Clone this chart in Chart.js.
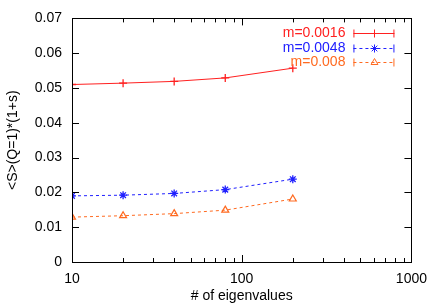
<!DOCTYPE html>
<html>
<head>
<meta charset="utf-8">
<script src="https://cdn.jsdelivr.net/npm/chart.js@4/dist/chart.umd.min.js"></script>
<style>
  html, body { margin: 0; padding: 0; background: #fff; }
  canvas { display: block; }
</style>
</head>
<body>
<canvas id="chart" width="436" height="305"></canvas>
<script>
// data
const eigenCounts = [10, 20, 40, 80, 200];
const seriesLabels = ['m=0.0016', 'm=0.0048', 'm=0.008'];
const valuesM0016 = [0.0510, 0.0514, 0.0519, 0.0529, 0.0557];
const valuesM0048 = [0.0190, 0.0192, 0.0197, 0.0208, 0.0238];
const valuesM008 = [0.0129, 0.0133, 0.0139, 0.0149, 0.0181];
const xTickLabels = [10, 100, 1000];
const yTickValues = [0, 0.01, 0.02, 0.03, 0.04, 0.05, 0.06, 0.07];

const colors = ['#ff2020', '#2020ff', '#ff6a20'];
const font = "'Liberation Sans', Arial, sans-serif";
const fontSize = 14;

function toPoints(vals) {
    return eigenCounts.map((x, i) => ({ x: x, y: vals[i] }));
}

// gnuplot style box with inward ticks on all four sides
const frameTicks = {
    id: 'frameTicks',
    afterDraw(chart) {
        const ctx = chart.ctx;
        const a = chart.chartArea;
        const xs = chart.scales.x;
        const ys = chart.scales.y;
        ctx.save();
        ctx.strokeStyle = '#000';
        ctx.lineWidth = 1;
        ctx.strokeRect(Math.round(a.left) + 0.5, Math.round(a.top) + 0.5,
            Math.round(a.right - a.left), Math.round(a.bottom - a.top));
        ctx.beginPath();
        yTickValues.forEach(function(v) {
            const y = Math.round(ys.getPixelForValue(v)) + 0.5;
            ctx.moveTo(a.left, y); ctx.lineTo(a.left + 7, y);
            ctx.moveTo(a.right, y); ctx.lineTo(a.right - 7, y);
        });
        for (let dec = 10; dec <= 1000; dec *= 10) {
            for (let k = 1; k <= 9; k++) {
                const v = dec * k;
                if (v > 1000) break;
                const x = Math.round(xs.getPixelForValue(v)) + 0.5;
                const len = k === 1 ? 7 : 4;
                ctx.moveTo(x, a.bottom); ctx.lineTo(x, a.bottom - len);
                ctx.moveTo(x, a.top); ctx.lineTo(x, a.top + len);
            }
        }
        ctx.stroke();
        ctx.restore();
    }
};

// legend with error-bar style samples, top right inside the box
const errLegend = {
    id: 'errLegend',
    afterDraw(chart) {
        const ctx = chart.ctx;
        const a = chart.chartArea;
        ctx.save();
        ctx.font = fontSize + 'px ' + font;
        ctx.textAlign = 'right';
        ctx.textBaseline = 'middle';
        chart.data.datasets.forEach(function(ds, i) {
            const y = Math.round(a.top + 15 + i * 14.3) + 0.5;
            const x0 = a.right - 58, x1 = a.right - 17;
            ctx.fillStyle = ds.borderColor;
            ctx.fillText(ds.label, a.right - 66, y);
            ctx.strokeStyle = ds.borderColor;
            ctx.lineWidth = 1;
            ctx.setLineDash(ds.borderDash || []);
            ctx.beginPath();
            ctx.moveTo(x0, y); ctx.lineTo(x1, y);
            ctx.stroke();
            ctx.setLineDash([]);
            ctx.beginPath();
            ctx.moveTo(x0 + 0.5, y - 4); ctx.lineTo(x0 + 0.5, y + 4);
            ctx.moveTo(x1 - 0.5, y - 4); ctx.lineTo(x1 - 0.5, y + 4);
            ctx.stroke();
            ctx.fillStyle = ds.backgroundColor;
            Chart.helpers.drawPoint(ctx, {
                pointStyle: ds.pointStyle, radius: ds.pointRadius, rotation: 0,
                borderWidth: 1
            }, Math.round((x0 + x1) / 2) + 0.5, y);
        });
        ctx.restore();
    }
};

const chart = new Chart(document.getElementById('chart'), {
    type: 'line',
    data: {
        datasets: [
            {
                label: seriesLabels[0], data: toPoints(valuesM0016),
                borderColor: colors[0], backgroundColor: colors[0],
                borderWidth: 1, pointStyle: 'cross', pointRadius: 4,
                pointBorderWidth: 1.3
            },
            {
                label: seriesLabels[1], data: toPoints(valuesM0048),
                borderColor: colors[1], backgroundColor: colors[1],
                borderWidth: 1, borderDash: [3, 3], pointStyle: 'star', pointRadius: 4,
                pointBorderWidth: 1.3
            },
            {
                label: seriesLabels[2], data: toPoints(valuesM008),
                borderColor: colors[2], backgroundColor: 'rgba(0,0,0,0)',
                borderWidth: 1, borderDash: [3, 3], pointStyle: 'triangle', pointRadius: 4,
                pointBorderWidth: 1.2
            }
        ]
    },
    options: {
        responsive: false,
        animation: false,
        layout: { padding: { left: 0, right: 24, top: 15, bottom: 0 } },
        plugins: {
            legend: { display: false },
            tooltip: { enabled: false }
        },
        scales: {
            x: {
                type: 'logarithmic',
                min: 10, max: 1000,
                grid: { display: false, drawTicks: false },
                border: { display: false },
                afterBuildTicks: function(scale) {
                    scale.ticks = xTickLabels.map(v => ({ value: v }));
                },
                afterFit: function(scale) { scale.height = 43; },
                ticks: {
                    color: '#000', padding: 9,
                    font: { family: font, size: fontSize },
                    maxRotation: 0,
                    callback: function(v) { return String(v); }
                },
                title: {
                    display: true, text: '# of eigenvalues', color: '#000',
                    font: { family: font, size: fontSize }, padding: { top: 2, bottom: 0 }
                }
            },
            y: {
                min: 0, max: 0.07,
                grid: { display: false, drawTicks: false },
                border: { display: false },
                afterBuildTicks: function(scale) {
                    scale.ticks = yTickValues.map(v => ({ value: v }));
                },
                afterFit: function(scale) { scale.width = 72; },
                ticks: {
                    color: '#000', padding: 10,
                    font: { family: font, size: fontSize },
                    callback: function(v) { return String(v); }
                },
                title: {
                    display: true, text: '<S>(Q=1)*(1+s)', color: '#000',
                    font: { family: font, size: fontSize }, padding: { top: 5, bottom: 0 }
                }
            }
        }
    },
    plugins: [frameTicks, errLegend]
});
</script>
</body>
</html>
